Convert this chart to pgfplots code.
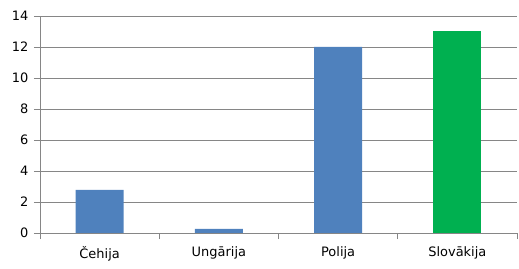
\documentclass[border=0pt]{standalone}
\usepackage{pgfplots}
\pgfplotsset{compat=1.18}
\usepackage{fontspec}
\setmainfont{DejaVu Sans}
\definecolor{barblue}{HTML}{4F81BD}
\definecolor{bargreen}{HTML}{00B050}
\definecolor{gridgray}{HTML}{868686}
\begin{document}
\begin{tikzpicture}
\begin{axis}[
  scale only axis,
  width=477bp, height=217bp,
  xmin=-0.5, xmax=3.5,
  ymin=0, ymax=14,
  ytick={0,2,...,14},
  xtick={-0.5,0.5,1.5,2.5,3.5},
  x tick label as interval,
  xticklabels={Čehija,Ungārija,Polija,Slovākija},
  axis x line*=bottom,
  axis y line*=left,
  axis line style={gridgray, line width=0.9bp},
  ymajorgrids,
  major grid style={gridgray, line width=0.9bp},
  tick style={gridgray, line width=0.9bp},
  tick align=outside,
  major tick length=6bp,
  xticklabel style={yshift=-4bp},
  yticklabel style={xshift=-2bp},
  ticklabel style={font=\fontsize{13}{15}\selectfont, text=black},
  /pgf/number format/assume math mode=true,
  ybar, bar width=48bp, bar shift=0bp,
]
\addplot[fill=barblue, draw=none] coordinates {(0,2.78) (1,0.27) (2,12.0)};
\addplot[fill=bargreen, draw=none] coordinates {(3,13.03)};
\end{axis}
\path (current axis.south west) ++(-40bp,-36bp) coordinate (bl);
\path (current axis.north east) ++(2bp,16bp) coordinate (tr);
\path (bl) rectangle (tr);
\end{tikzpicture}
\end{document}
